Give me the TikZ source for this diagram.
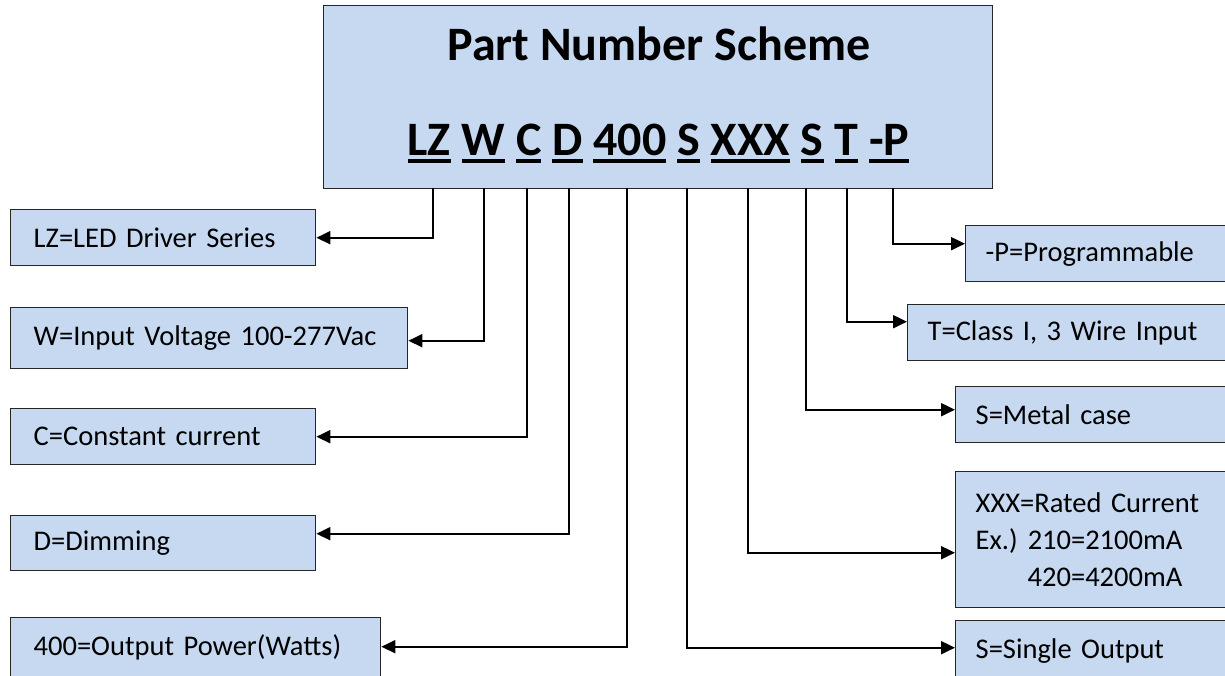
\documentclass[tikz,border=0pt]{standalone}
\usepackage{fontspec}
\setmainfont{Carlito}
\usetikzlibrary{arrows.meta}
\definecolor{boxblue}{HTML}{C6D9F1}
\newcommand\ulpart[1]{\setbox0\hbox{#1}\rlap{\rule[-8pt]{\wd0}{4pt}}\box0\relax}
\begin{document}
\begin{tikzpicture}[x=1pt,y=-1pt,
  box/.style={draw=black!85, line width=1.4pt, fill=boxblue, anchor=north west,
    inner ysep=0pt, align=left, font=\fontsize{28.5}{37}\selectfont},
  lbox/.style={box, inner xsep=23pt},
  rbox/.style={box, inner xsep=20pt},
  arr/.style={line width=2pt, -{Triangle[length=14pt,width=13pt]}},
  big/.style={font=\fontsize{48}{56}\selectfont\bfseries, inner sep=0pt},
]
\useasboundingbox (0,0) rectangle (1225,675);
\clip (0,0) rectangle (1225,675);

% title box
\node[box, minimum width=669pt, minimum height=183pt] (title) at (323,5) {};
\node[big, anchor=base] (head) at (659,60) {Part Number Scheme};
\node[big, anchor=base] (code) at (658.5,155) {\ulpart{LZ} \ulpart{W} \ulpart{C} \ulpart{D} \ulpart{400} \ulpart{S} \ulpart{XXX} \ulpart{S} \ulpart{T} \ulpart{-P}};

% connector origins on the bottom edge of the title box
\coordinate (pLZ) at (433,188);
\coordinate (pW) at (484,188);
\coordinate (pC) at (527,188);
\coordinate (pD) at (569,188);
\coordinate (p400) at (627,188);
\coordinate (pS1) at (687,188);
\coordinate (pX) at (748,188);
\coordinate (pS2) at (806,188);
\coordinate (pT) at (847,188);
\coordinate (pP) at (893,188);

% left boxes
\node[lbox, minimum width=305pt, minimum height=56pt, text width=259pt] (lz) at (10,209) {LZ=LED Driver Series};
\node[lbox, minimum width=397pt, minimum height=61pt, text width=351pt] (w) at (10,307) {W=Input Voltage 100-277Vac};
\node[lbox, minimum width=305pt, minimum height=56pt, text width=259pt] (c) at (10,408) {C=Constant current};
\node[lbox, minimum width=305pt, minimum height=55pt, text width=259pt] (d) at (10,515) {D=Dimming};
\node[lbox, minimum width=370pt, minimum height=60pt, text width=324pt] (pw) at (10,617) {400=Output Power(Watts)};

% right boxes
\node[rbox, minimum width=275pt, minimum height=56pt, text width=235pt] (prog) at (965,225) {-P=Programmable};
\node[rbox, minimum width=333pt, minimum height=56pt, text width=293pt] (cls) at (907,304) {T=Class I, 3 Wire Input};
\node[rbox, minimum width=285pt, minimum height=56pt, text width=245pt] (metal) at (955,386) {S=Metal case};
\node[rbox, minimum width=285pt, minimum height=136pt, text width=245pt] (rated) at (955,471) {XXX=Rated Current\\Ex.)\hspace{10pt}210=2100mA\\\hspace*{52pt}420=4200mA};
\node[rbox, minimum width=285pt, minimum height=60pt, text width=245pt] (single) at (955,620) {S=Single Output};

% connectors
\draw[arr] (pLZ) |- (lz.east);
\draw[arr] (pW) |- ([yshift=-2.5pt]w.east);
\draw[arr] (pC) |- (c.east);
\draw[arr] (pD) |- ([yshift=9.5pt]d.east);
\draw[arr] (p400) |- ([yshift=1pt]pw.east);
\draw[arr] (pP) |- ([yshift=10pt]prog.west);
\draw[arr] (pT) |- ([yshift=11pt]cls.west);
\draw[arr] (pS2) |- ([yshift=5pt]metal.west);
\draw[arr] (pX) |- ([yshift=-13pt]rated.west);
\draw[arr] (pS1) |- ([yshift=3pt]single.west);
\end{tikzpicture}
\end{document}
